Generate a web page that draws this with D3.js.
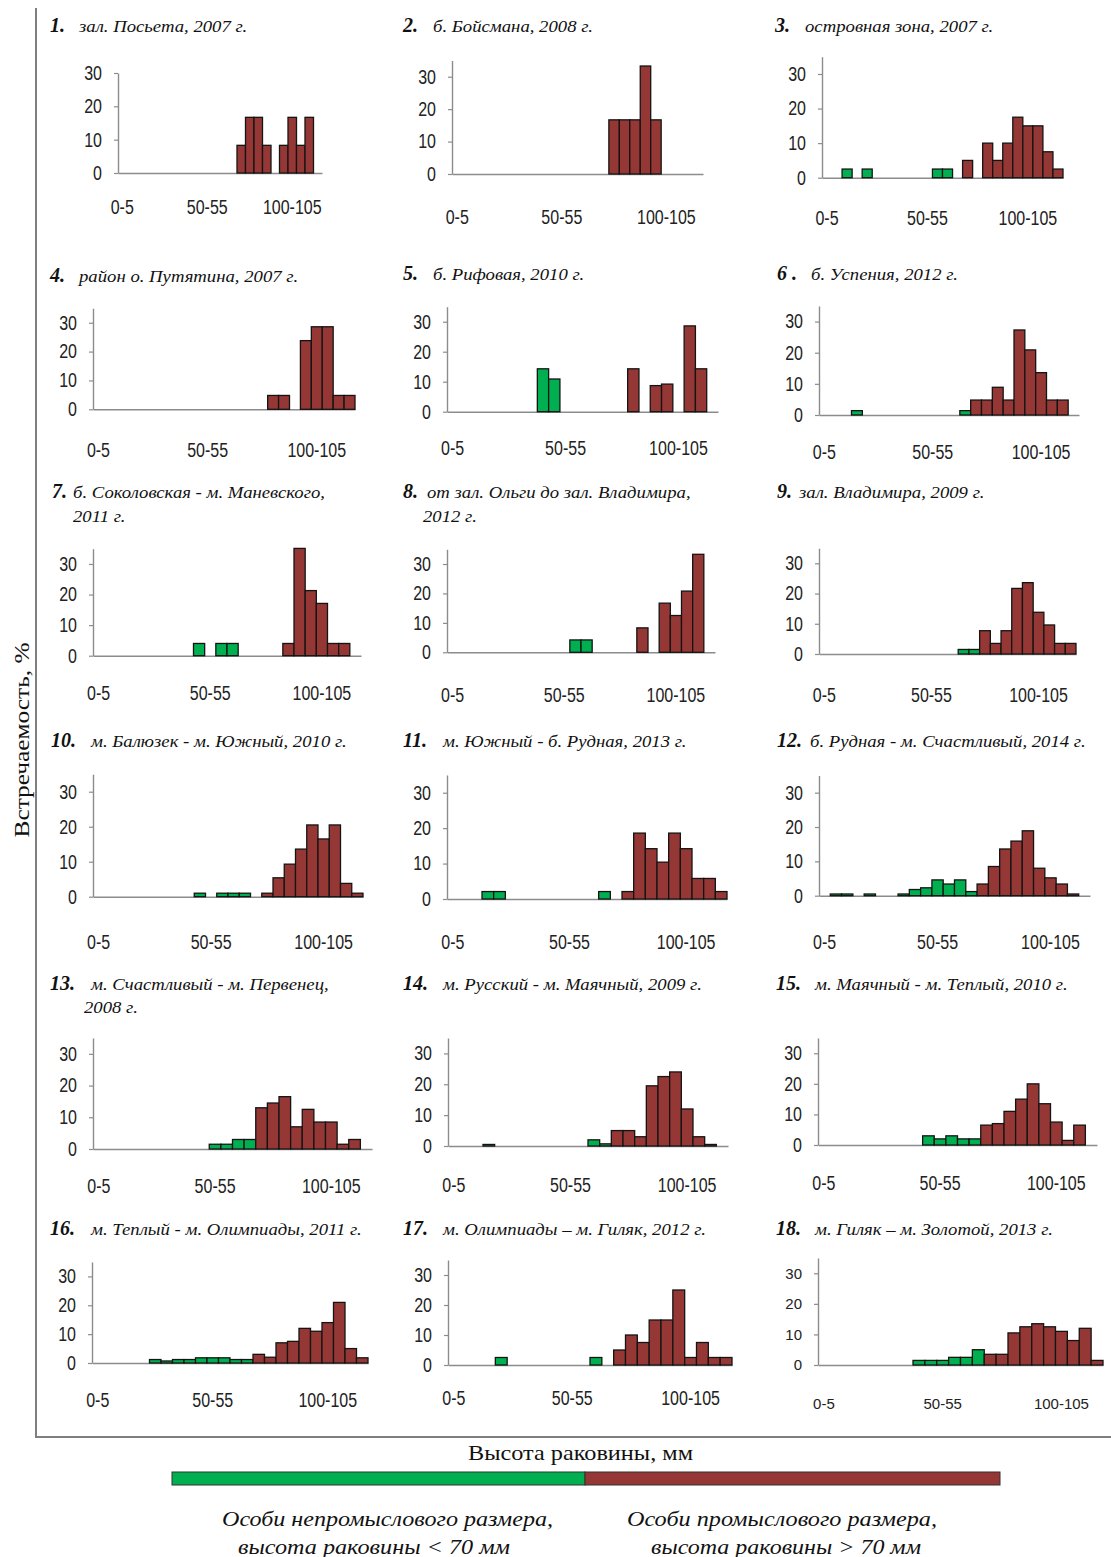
<!DOCTYPE html>
<meta charset="utf-8">
<script src="https://d3js.org/d3.v7.min.js"></script>
<style>
  body { margin: 0; background: #fff; }
  .tick text { font-family: "Liberation Sans", Arial, sans-serif; fill: #222; }
  .serif { font-family: "Liberation Serif", "Times New Roman", serif; fill: #111; }
</style>
<div id="chart"></div>
<script>

// ---------- data ----------
const bins = ["0-5","5-10","10-15","15-20","20-25","25-30","30-35","35-40","40-45","45-50",
              "50-55","55-60","60-65","65-70","70-75","75-80","80-85","85-90","90-95","95-100",
              "100-105","105-110","110-115","115-120"];
const xTickLabels = ["0-5", "50-55", "100-105"];
const yTickValues = [0, 10, 20, 30];

const panelNumbers = ["1.","2.","3.","4.","5.","6 .","7.","8.","9.","10.","11.","12.","13.","14.","15.","16.","17.","18."];
const panelTitles = [
  ["зал. Посьета, 2007 г."],
  ["б. Бойсмана, 2008 г."],
  ["островная зона, 2007 г."],
  ["район  о. Путятина, 2007 г."],
  ["б. Рифовая, 2010 г."],
  ["б. Успения, 2012 г."],
  ["б. Соколовская - м. Маневского,", "2011 г."],
  ["от зал. Ольги до зал. Владимира,", "2012 г."],
  ["зал. Владимира, 2009 г."],
  ["м. Балюзек - м. Южный, 2010 г."],
  ["м. Южный - б. Рудная, 2013 г."],
  ["б. Рудная - м. Счастливый, 2014 г."],
  ["м. Счастливый - м. Первенец,", "2008 г."],
  ["м. Русский - м. Маячный, 2009 г."],
  ["м. Маячный - м. Теплый, 2010 г."],
  ["м. Теплый - м. Олимпиады, 2011 г."],
  ["м. Олимпиады – м. Гиляк, 2012 г."],
  ["м. Гиляк – м. Золотой, 2013 г."]
];

// share of shells, %, by 5-mm height class: under 70 mm (green) ...
const smallShare = [
  [0,0,0,0,0,0,0,0,0,0, 0,0,0,0,0,0,0,0,0,0, 0,0,0,0],
  [0,0,0,0,0,0,0,0,0,0, 0,0,0,0,0,0,0,0,0,0, 0,0,0,0],
  [0,0,2.5,0,2.5,0,0,0,0,0, 0,2.5,2.5,0,0,0,0,0,0,0, 0,0,0,0],
  [0,0,0,0,0,0,0,0,0,0, 0,0,0,0,0,0,0,0,0,0, 0,0,0,0],
  [0,0,0,0,0,0,0,0,14.3,10.9, 0,0,0,0,0,0,0,0,0,0, 0,0,0,0],
  [0,0,0,1.4,0,0,0,0,0,0, 0,0,0,1.4,0,0,0,0,0,0, 0,0,0,0],
  [0,0,0,0,0,0,0,0,0,4.0, 0,4.0,4.0,0,0,0,0,0,0,0, 0,0,0,0],
  [0,0,0,0,0,0,0,0,0,0, 0,4.2,4.2,0,0,0,0,0,0,0, 0,0,0,0],
  [0,0,0,0,0,0,0,0,0,0, 0,0,0,1.5,1.5,0,0,0,0,0, 0,0,0,0],
  [0,0,0,0,0,0,0,0,0,1.0, 0,1.0,1.0,1.0,0,0,0,0,0,0, 0,0,0,0],
  [0,0,0,2.1,2.1,0,0,0,0,0, 0,0,0,2.1,0,0,0,0,0,0, 0,0,0,0],
  [0,0.5,0.5,0,0.5,0,0,0.5,1.8,2.3, 4.6,3.4,4.6,1.2,0,0,0,0,0,0, 0,0,0,0],
  [0,0,0,0,0,0,0,0,0,0, 1.5,1.5,3,3,0,0,0,0,0,0, 0,0,0,0],
  [0,0,0,0.5,0,0,0,0,0,0, 0,0,2,0.7,0,0,0,0,0,0, 0,0,0,0],
  [0,0,0,0,0,0,0,0,0,3, 2,3,2,2,0,0,0,0,0,0, 0,0,0,0],
  [0,0,0,0,0,1.2,0.7,1.2,1.2,1.8, 1.8,1.8,1.2,1.2,0,0,0,0,0,0, 0,0,0,0],
  [0,0,0,0,2.5,0,0,0,0,0, 0,0,2.5,0,0,0,0,0,0,0, 0,0,0,0],
  [0,0,0,0,0,0,0,0,1.5,1.5, 1.5,2.5,2.5,5,0,0,0,0,0,0, 0,0,0,0]
];
// ... and 70 mm and over (dark red)
const largeShare = [
  [0,0,0,0,0,0,0,0,0,0, 0,0,0,0,8.3,16.7,16.7,8.3,0,8.3, 16.7,8.3,16.7,0],
  [0,0,0,0,0,0,0,0,0,0, 0,0,0,0,0,16.7,16.7,16.7,33.3,16.7, 0,0,0,0],
  [0,0,0,0,0,0,0,0,0,0, 0,0,0,0,5,0,10,5,10,17.5, 15,15,7.5,2.5],
  [0,0,0,0,0,0,0,0,0,0, 0,0,0,0,0,0,4.8,4.8,0,23.8, 28.6,28.6,4.8,4.8],
  [0,0,0,0,0,0,0,0,0,0, 0,0,0,0,0,0,14.3,0,8.7,9.2, 0,28.6,14.3,0],
  [0,0,0,0,0,0,0,0,0,0, 0,0,0,0,4.8,4.8,8.9,4.8,27.3,20.9, 13.6,4.8,4.8,0],
  [0,0,0,0,0,0,0,0,0,0, 0,0,0,0,0,0,0,4.0,35.1,21.3, 17.1,4.0,4.0,0],
  [0,0,0,0,0,0,0,0,0,0, 0,0,0,0,0,0,0,8.3,0,16.7, 12.5,20.8,33.3,0],
  [0,0,0,0,0,0,0,0,0,0, 0,0,0,0,0,7.7,3.5,7.7,21.7,23.6, 13.8,9.6,3.5,3.5],
  [0,0,0,0,0,0,0,0,0,0, 0,0,0,0,0,1.0,5.4,9.3,13.6,20.5, 16.5,20.5,3.8,1.0],
  [0,0,0,0,0,0,0,0,0,0, 0,0,0,0,0,2.1,18.6,14.2,10.4,18.6, 14.2,5.8,5.8,2.1],
  [0,0,0,0,0,0,0,0,0,0, 0,0,0,0,3.4,8.5,13.6,15.9,18.9,8.0, 5.2,3.4,0.5,0],
  [0,0,0,0,0,0,0,0,0,0, 0,0,0,0,13,14.5,16.5,7,12.5,8.5, 8.5,1.5,3,0],
  [0,0,0,0,0,0,0,0,0,0, 0,0,0,0,5,5,3,19.5,22.5,24, 12,3,0.5,0],
  [0,0,0,0,0,0,0,0,0,0, 0,0,0,0,6.5,7,11,15,20,13.5, 7.5,1.5,6.5,0],
  [0,0,0,0,0,0,0,0,0,0, 0,0,0,0,3,2,7,7.5,12,11, 14,21,5,1.8],
  [0,0,0,0,0,0,0,0,0,0, 0,0,0,0,5,10,7.5,15,15,25, 2.5,7.5,2.5,2.5],
  [0,0,0,0,0,0,0,0,0,0, 0,0,0,0,3.5,3.5,10.5,12.5,13.5,12.5, 11,8,12,1.5]
];
const yMax = [30,35,35,35,35,35,35,35,35,35,35,35,35,35,35,35,35,35];

// ---------- layout (plot boxes as placed on the page) ----------
const boxes = [
  {x0:118, x1:322,  y0:173,   top:73,    lab:207,   nx:50,  ny:32,    tx:79,  l2:null},
  {x0:452, x1:703,  y0:174,   top:60.5,  lab:217,   nx:403, ny:32,    tx:433, l2:null},
  {x0:822, x1:1063, y0:177.7, top:56.7,  lab:218,   nx:775, ny:32,    tx:805, l2:null},
  {x0:93,  x1:355,  y0:409.3, top:308.3, lab:450,   nx:50,  ny:281.7, tx:79,  l2:null},
  {x0:447, x1:718,  y0:411.7, top:306.7, lab:448,   nx:403, ny:280,   tx:433, l2:null},
  {x0:819, x1:1079, y0:415,   top:306,   lab:451.7, nx:777, ny:280,   tx:811, l2:null},
  {x0:93,  x1:361,  y0:655.7, top:548.7, lab:693.3, nx:52,  ny:498.3, tx:73,  l2:73},
  {x0:447, x1:715,  y0:652.3, top:549.3, lab:695,   nx:403, ny:498.3, tx:427, l2:423},
  {x0:819, x1:1076, y0:654,   top:548.2, lab:695,   nx:777, ny:498.3, tx:799, l2:null},
  {x0:93,  x1:363,  y0:896.7, top:774.2, lab:941.7, nx:51,  ny:746.7, tx:91,  l2:null},
  {x0:447, x1:727,  y0:899,   top:775,   lab:941.7, nx:403, ny:746.7, tx:443, l2:null},
  {x0:819, x1:1090, y0:895.7, top:775.5, lab:941.7, nx:777, ny:746.7, tx:810, l2:null},
  {x0:93,  x1:372,  y0:1149,  top:1038,  lab:1186,  nx:50,  ny:990,   tx:91,  l2:84},
  {x0:448, x1:728,  y0:1146,  top:1038,  lab:1185,  nx:403, ny:990,   tx:443, l2:null},
  {x0:818, x1:1097, y0:1145,  top:1038,  lab:1183,  nx:776, ny:990,   tx:815, l2:null},
  {x0:92,  x1:368,  y0:1363,  top:1262,  lab:1400,  nx:50,  ny:1235,  tx:91,  l2:null},
  {x0:448, x1:732,  y0:1365,  top:1260,  lab:1398,  nx:403, ny:1235,  tx:443, l2:null},
  {x0:818, x1:1103, y0:1365,  top:1258,  lab:1404,  nx:776, ny:1235,  tx:815, l2:null}
];

const green = "#00b050", red = "#953735", axisGrey = "#8c8c8c";

const svg = d3.select("#chart").append("svg")
  .attr("width", 1111)
  .attr("height", 1557);

// outer frame (left + bottom)
svg.append("path")
  .attr("d", "M36,8V1437H1111")
  .attr("fill", "none")
  .attr("stroke", "#7f7f7f")
  .attr("stroke-width", 2);

boxes.forEach((b, i) => {
  const g = svg.append("g");
  const small = i === 17;              // last panel: smaller, unstretched tick labels
  const fs = small ? "15px" : "20px";
  const narrow = small ? 1 : 0.8;      // other panels: tall narrow digits

  const x = d3.scaleBand().domain(bins).range([b.x0, b.x1]).padding(0);
  const y = d3.scaleLinear().domain([0, yMax[i]]).range([b.y0, b.top]);

  // X axis
  const xa = g.append("g")
    .attr("transform", `translate(0,${b.y0})`)
    .call(d3.axisBottom(x).tickValues(xTickLabels).tickSize(0).tickSizeOuter(0));
  xa.select(".domain").attr("stroke", axisGrey).attr("stroke-width", 1.4);
  xa.selectAll(".tick text")
    .attr("y", b.lab - b.y0)
    .attr("dy", "0.35em")
    .attr("transform", `scale(${narrow},1)`)
    .style("font-size", fs);

  // bars
  const series = [
    {vals: smallShare[i], color: green},
    {vals: largeShare[i], color: red}
  ];
  series.forEach(s => {
    g.append("g")
      .selectAll("rect")
      .data(bins.map((k, j) => ({k, v: s.vals[j]})).filter(d => d.v > 0))
      .join("rect")
        .attr("x", d => x(d.k))
        .attr("y", d => y(d.v))
        .attr("width", x.bandwidth())
        .attr("height", d => y(0) - y(d.v))
        .attr("fill", s.color)
        .attr("stroke", "#141414")
        .attr("stroke-width", 1.3);
  });

  // Y axis
  const ya = g.append("g")
    .attr("transform", `translate(${b.x0},0)`)
    .call(d3.axisLeft(y).tickValues(yTickValues).tickSize(4).tickSizeOuter(0).tickPadding(12));
  ya.select(".domain").attr("stroke", axisGrey).attr("stroke-width", 1.4);
  ya.selectAll(".tick line").attr("stroke", axisGrey).attr("stroke-width", 1.2);
  ya.selectAll(".tick text")
    .attr("x", -16 / narrow)
    .attr("transform", `scale(${narrow},1)`)
    .style("font-size", fs);

  // panel title
  g.append("text")
    .attr("class", "serif")
    .attr("x", b.nx)
    .attr("y", b.ny)
    .style("font-size", "20px")
    .style("font-weight", "bold")
    .style("font-style", "italic")
    .text(panelNumbers[i]);

  panelTitles[i].forEach((line, k) => {
    const lx = k === 0 ? b.tx : b.l2;
    const ly = b.ny + k * 23.4;
    g.append("text")
      .attr("class", "serif")
      .attr("transform", `translate(${lx},${ly}) scale(1.17,1)`)
      .style("font-size", "16px")
      .style("font-style", "italic")
      .text(line);
  });
});

// axis titles
svg.append("text")
  .attr("class", "serif")
  .attr("transform", "translate(29,740) rotate(-90)")
  .attr("text-anchor", "middle")
  .attr("textLength", 195)
  .attr("lengthAdjust", "spacingAndGlyphs")
  .style("font-size", "20px")
  .text("Встречаемость, %");

svg.append("text")
  .attr("class", "serif")
  .attr("x", 468)
  .attr("y", 1460)
  .attr("textLength", 225)
  .attr("lengthAdjust", "spacingAndGlyphs")
  .style("font-size", "21px")
  .text("Высота раковины, мм");

// size-class bar
svg.append("rect").attr("x", 172).attr("y", 1472).attr("width", 413).attr("height", 13)
  .attr("fill", green).attr("stroke", "#333").attr("stroke-width", 1);
svg.append("rect").attr("x", 585).attr("y", 1472).attr("width", 415).attr("height", 13)
  .attr("fill", red).attr("stroke", "#333").attr("stroke-width", 1);

// legend captions
const captions = [
  {x: 222, y: 1526, w: 331, t: "Особи непромыслового размера,"},
  {x: 238, y: 1554, w: 272, t: "высота раковины < 70 мм"},
  {x: 627, y: 1526, w: 310, t: "Особи промыслового размера,"},
  {x: 651, y: 1554, w: 270, t: "высота раковины > 70 мм"}
];
svg.selectAll(".caption")
  .data(captions)
  .join("text")
    .attr("class", "serif caption")
    .attr("x", d => d.x)
    .attr("y", d => d.y)
    .attr("textLength", d => d.w)
    .attr("lengthAdjust", "spacingAndGlyphs")
    .style("font-size", "20px")
    .style("font-style", "italic")
    .text(d => d.t);

</script>
